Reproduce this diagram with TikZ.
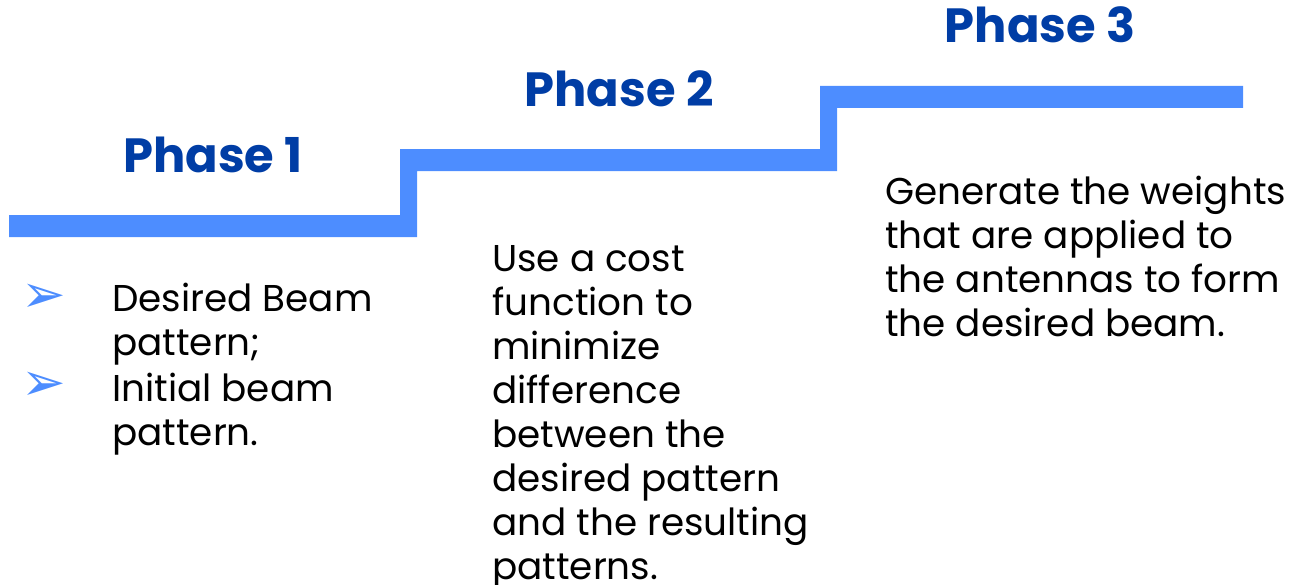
\documentclass[tikz,border=0pt]{standalone}
\usepackage{fontspec}
\setmainfont{Poppins}
\newfontfamily\dingfont{DejaVu Sans}
\definecolor{stepblue}{HTML}{4D8DFF}
\definecolor{titleblue}{HTML}{003DA5}

\begin{document}
\begin{tikzpicture}[x=0.75pt,y=-0.75pt,
  phase/.style={text=titleblue,font=\fontsize{36}{40}\selectfont\bfseries,inner sep=0pt,anchor=base},
  body/.style={align=left,anchor=north west,inner sep=0pt,font=\fontsize{28}{33}\selectfont},
  bullet/.style={text=stepblue,inner sep=0pt,font=\dingfont\fontsize{40}{40}\selectfont}]
\useasboundingbox (0,0) rectangle (1293,585);

% stairs
\fill[stepblue] (9,215) -| (400,149) -| (820,86) -- (1243,86) -- (1243,108) -| (837,171) -| (417,237) -- (9,237) -- cycle;

\node[phase] (p1) at (213,172) {Phase 1};
\node[phase] (p2) at (619,107) {Phase 2};
\node[phase] (p3) at (1040,43) {Phase 3};

% phase 1
\node[bullet] (b1) at (44,298) {\symbol{"27A2}};
\node[body] (i1) at (112,283) {Desired Beam\\pattern;};
\node[bullet] (b2) at (44,386) {\symbol{"27A2}};
\node[body] (i2) at (112,373) {Initial beam\\pattern.};

% phase 2
\node[body] (t2) at (492,245) {Use a cost\\function to\\minimize\\difference\\between the\\desired pattern\\and the resulting\\patterns.};

% phase 3
\node[body] (t3) at (885,176) {Generate the weights\\that are applied to\\the antennas to form\\the desired beam.};
\end{tikzpicture}
\end{document}
